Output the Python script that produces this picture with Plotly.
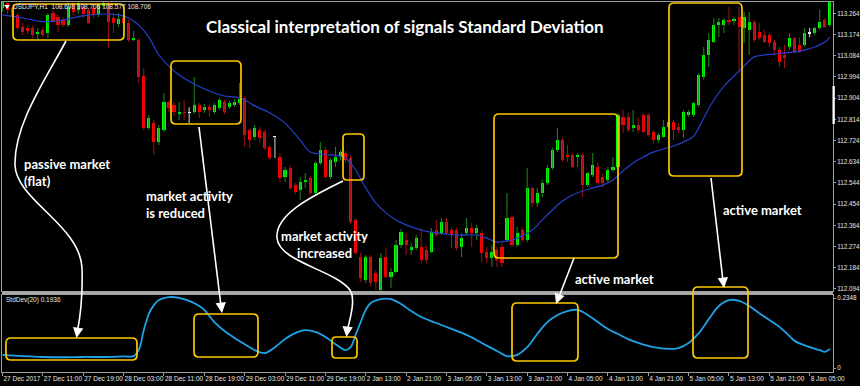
import plotly.graph_objects as go

# ---------------- data ----------------
opens = [113.287,113.308,113.287,113.257,113.206,113.202,113.202,113.180,113.193,113.180,
         113.265,113.248,113.236,113.214,113.303,113.278,113.291,113.278,113.287,113.257,
         113.295,113.308,113.244,113.219,113.244,113.223,113.151,113.151,112.998,112.777,
         112.798,112.718,112.769,112.888,112.875,112.837,112.845,112.841,112.845,112.875,
         112.854,112.866,112.845,112.862,112.888,112.866,112.875,112.883,112.905,112.769,
         112.739,112.769,112.760,112.697,112.739,112.654,112.569,112.608,112.535,112.514,
         112.548,112.565,112.501,112.629,112.684,112.569,112.633,112.654,112.671,112.650,
         112.387,112.230,112.132,112.230,112.162,112.090,112.230,112.145,112.166,112.281,
         112.302,112.259,112.268,112.272,112.259,112.251,112.344,112.332,112.378,112.344,
         112.344,112.272,112.332,112.353,112.332,112.332,112.251,112.226,112.259,112.272,
         112.302,112.400,112.281,112.344,112.302,112.523,112.459,112.501,112.544,112.608,
         112.684,112.726,112.663,112.663,112.654,112.663,112.535,112.578,112.612,112.569,
         112.557,112.599,112.612,112.824,112.824,112.777,112.790,112.832,112.832,112.760,
         112.726,112.739,112.781,112.803,112.781,112.769,112.832,112.832,112.875,112.994,
         113.087,113.142,113.214,113.214,113.236,113.231,113.248,113.202,113.193,113.227,
         113.185,113.172,113.172,113.142,113.108,113.087,113.121,113.159,113.130,113.130,
         113.180,113.180,113.202,113.236,113.214]
highs = [113.320,113.316,113.299,113.265,113.223,113.214,113.214,113.202,113.206,113.265,
         113.278,113.257,113.248,113.316,113.316,113.316,113.303,113.287,113.299,113.308,
         113.316,113.316,113.265,113.265,113.257,113.236,113.189,113.159,113.032,112.832,
         112.811,112.790,112.926,112.896,112.888,112.888,112.896,112.866,112.994,112.884,
         112.879,112.875,112.884,112.905,112.896,112.892,112.900,112.968,112.913,112.777,
         112.790,112.781,112.769,112.705,112.743,112.671,112.612,112.616,112.544,112.569,
         112.586,112.574,112.637,112.718,112.697,112.650,112.697,112.684,112.680,112.663,
         112.395,112.247,112.238,112.238,112.174,112.247,112.268,112.183,112.302,112.349,
         112.332,112.289,112.323,112.353,112.281,112.353,112.387,112.395,112.395,112.353,
         112.353,112.332,112.395,112.374,112.366,112.344,112.272,112.281,112.272,112.289,
         112.501,112.408,112.357,112.357,112.608,112.527,112.523,112.557,112.620,112.692,
         112.777,112.735,112.705,112.671,112.671,112.671,112.590,112.671,112.629,112.586,
         112.612,112.654,112.841,112.854,112.841,112.854,112.820,112.841,112.841,112.769,
         112.756,112.811,112.820,112.811,112.798,112.854,112.854,112.888,113.011,113.121,
         113.180,113.244,113.244,113.244,113.291,113.248,113.291,113.270,113.270,113.236,
         113.223,113.193,113.180,113.151,113.121,113.130,113.180,113.163,113.163,113.202,
         113.202,113.206,113.278,113.244,113.320]
lows = [113.270,113.261,113.236,113.193,113.172,113.176,113.159,113.151,113.163,113.159,
        113.223,113.185,113.206,113.206,113.257,113.261,113.244,113.219,113.244,113.248,
        113.287,113.117,113.180,113.206,113.210,113.142,113.146,112.968,112.769,112.769,
        112.663,112.705,112.760,112.845,112.828,112.811,112.811,112.798,112.837,112.820,
        112.841,112.824,112.837,112.854,112.837,112.858,112.866,112.875,112.697,112.692,
        112.726,112.714,112.684,112.641,112.650,112.548,112.548,112.514,112.497,112.472,
        112.523,112.493,112.493,112.620,112.565,112.561,112.612,112.641,112.633,112.370,
        112.238,112.124,112.120,112.103,112.090,112.086,112.141,112.098,112.162,112.268,
        112.238,112.238,112.259,112.204,112.204,112.247,112.315,112.323,112.323,112.268,
        112.259,112.230,112.323,112.272,112.302,112.208,112.204,112.187,112.187,112.187,
        112.293,112.272,112.272,112.293,112.293,112.442,112.442,112.484,112.535,112.599,
        112.675,112.633,112.633,112.608,112.612,112.484,112.527,112.569,112.535,112.523,
        112.548,112.590,112.608,112.756,112.760,112.760,112.756,112.756,112.739,112.714,
        112.714,112.735,112.777,112.726,112.756,112.735,112.824,112.824,112.866,112.981,
        113.036,113.138,113.163,113.180,113.214,113.214,113.011,113.138,113.087,113.142,
        113.151,113.138,113.121,113.087,113.036,113.032,113.108,113.095,113.095,113.121,
        113.163,113.172,113.193,113.202,113.206]
closes = [113.312,113.278,113.253,113.202,113.185,113.189,113.172,113.185,113.172,113.257,
          113.231,113.214,113.214,113.291,113.270,113.308,113.261,113.223,113.257,113.299,
          113.308,113.227,113.223,113.240,113.223,113.151,113.159,112.994,112.777,112.820,
          112.718,112.777,112.888,112.862,112.845,112.845,112.841,112.841,112.875,112.845,
          112.866,112.854,112.875,112.896,112.845,112.884,112.888,112.900,112.748,112.726,
          112.777,112.735,112.692,112.650,112.739,112.565,112.599,112.523,112.506,112.548,
          112.557,112.501,112.629,112.684,112.569,112.641,112.654,112.675,112.641,112.378,
          112.247,112.141,112.230,112.120,112.124,112.226,112.145,112.166,112.281,112.336,
          112.281,112.272,112.310,112.217,112.217,112.336,112.323,112.378,112.332,112.323,
          112.268,112.310,112.353,112.332,112.353,112.247,112.226,112.251,112.217,112.204,
          112.395,112.281,112.332,112.302,112.523,112.459,112.501,112.544,112.608,112.684,
          112.726,112.641,112.654,112.612,112.663,112.535,112.586,112.620,112.544,112.544,
          112.599,112.612,112.832,112.790,112.769,112.790,112.769,112.760,112.748,112.726,
          112.748,112.781,112.803,112.769,112.769,112.845,112.845,112.883,113.002,113.087,
          113.151,113.214,113.227,113.236,113.227,113.240,113.206,113.248,113.227,113.151,
          113.159,113.142,113.138,113.108,113.057,113.074,113.159,113.100,113.100,113.180,
          113.180,113.202,113.227,113.206,113.312]

# moving average (blue line), read at sampled bars
ma_idx = [0,4,8,12,16,20,23,25,27,29,31,33,35,38,41,44,46,48,50,53,56,59,61,63,65,67,68,70,72,74,
          76,78,80,83,86,90,94,96,98,101,103,105,107,109,111,113,115,117,119,121,123,125,127,129,131,
          133,135,137,139,141,143,145,147,149,151,153,155,157,159,161,163,164]
ma_val = [113.257,113.244,113.229,113.236,113.253,113.261,113.257,113.244,113.214,113.163,113.087,
          113.040,113.002,112.964,112.934,112.913,112.909,112.896,112.871,112.841,112.798,112.726,
          112.675,112.667,112.663,112.658,112.650,112.599,112.523,112.459,112.417,112.387,112.366,
          112.344,112.332,112.323,112.323,112.310,112.293,112.302,112.319,112.344,112.387,112.429,
          112.467,112.493,112.510,112.523,112.535,112.557,112.595,112.629,112.654,112.675,112.688,
          112.701,112.718,112.743,112.820,112.896,112.955,112.998,113.040,113.079,113.087,113.091,
          113.096,113.100,113.108,113.121,113.142,113.163]

# StdDev(20) indicator, read at sampled bars
sd_idx = [0,4,8,12,16,20,24,26,27,28,29,30,31,33,35,37,39,40,42,44,46,48,50,52,54,56,58,60,62,64,
          66,68,69,70,71,72,73,75,77,79,81,83,86,89,92,95,98,100,102,104,106,108,110,112,114,116,
          118,120,122,124,126,129,132,134,136,138,140,142,144,146,148,150,152,154,156,157,160,162,163,164]
sd_val = [0.044,0.040,0.037,0.036,0.037,0.037,0.039,0.040,0.060,0.127,0.181,0.211,0.228,0.238,0.235,
          0.225,0.208,0.195,0.154,0.124,0.101,0.080,0.060,0.050,0.070,0.097,0.117,0.127,0.121,0.104,
          0.080,0.060,0.070,0.111,0.154,0.195,0.218,0.231,0.231,0.215,0.191,0.171,0.151,0.131,0.111,
          0.084,0.057,0.040,0.044,0.070,0.114,0.154,0.178,0.191,0.195,0.178,0.154,0.131,0.114,0.097,
          0.084,0.070,0.064,0.067,0.084,0.117,0.164,0.208,0.228,0.225,0.208,0.184,0.161,0.138,0.107,
          0.091,0.070,0.060,0.054,0.064]

price_ticks = [113.264,113.174,113.084,112.994,112.904,112.814,112.724,112.634,112.544,
               112.454,112.364,112.274,112.184,112.094]
time_idx = [0,8,16,24,32,40,48,56,64,72,80,88,96,104,112,120,128,136,144,152,160]
time_labels = ["27 Dec 2017","27 Dec 11:00","27 Dec 19:00","28 Dec 03:00","28 Dec 11:00",
               "28 Dec 19:00","29 Dec 03:00","29 Dec 11:00","29 Dec 19:00","2 Jan 13:00",
               "2 Jan 21:00","3 Jan 05:00","3 Jan 13:00","3 Jan 21:00","4 Jan 05:00",
               "4 Jan 13:00","4 Jan 21:00","5 Jan 05:00","5 Jan 13:00","5 Jan 21:00","8 Jan 05:00"]
sd_ticks = [0, 0.2348]

# ---------------- geometry helpers ----------------
W, H = 860, 386
ML, MR, MT, MB = 2, 27, 2, 14
PW = W - ML - MR
PH = H - MT - MB


def px(x, y):
    return (x - ML) / PW, (H - MB - y) / PH


def P(x, y):
    X, Y = px(x, y)
    return f"{X:.5f},{Y:.5f}"


def rrect(x0, y0, x1, y1, r=5):
    return (f"M {P(x0 + r, y0)} L {P(x1 - r, y0)} Q {P(x1, y0)} {P(x1, y0 + r)} "
            f"L {P(x1, y1 - r)} Q {P(x1, y1)} {P(x1 - r, y1)} L {P(x0 + r, y1)} "
            f"Q {P(x0, y1)} {P(x0, y1 - r)} L {P(x0, y0 + r)} Q {P(x0, y0)} {P(x0 + r, y0)} Z")


def path(cmds):
    out = []
    for letter, *pts in cmds:
        out.append(letter + " " + " ".join(P(x, y) for x, y in pts))
    return " ".join(out)


main_dom = [(H - MB - 291) / PH, 1]
ind_dom = [0, (H - MB - 295) / PH]

BULL, BEAR, DOJI = "#00ff00", "#ff0000", "#ffffff"
BULL_W, BEAR_W = "#1c8c1c", "#a01414"

fig = go.Figure()

# wicks
wick = {"bull": ([], []), "bear": ([], []), "doji": ([], [])}
for i, (o, h, l, c) in enumerate(zip(opens, highs, lows, closes)):
    k = "bull" if c > o else ("bear" if c < o else "doji")
    wick[k][0].extend([i, i, None])
    wick[k][1].extend([l, h, None])
for k, col in (("bull", BULL_W), ("bear", BEAR_W), ("doji", "#d8d8d8")):
    fig.add_trace(go.Scatter(x=wick[k][0], y=wick[k][1], mode="lines",
                             line=dict(color=col, width=1), hoverinfo="skip",
                             showlegend=False, xaxis="x", yaxis="y"))

# bodies
base = [min(o, c) for o, c in zip(opens, closes)]
height = [max(abs(c - o), 0.0035) for o, c in zip(opens, closes)]
colors = [BULL if c > o else (BEAR if c < o else DOJI) for o, c in zip(opens, closes)]
fig.add_trace(go.Bar(x=list(range(len(opens))), y=height, base=base, width=0.62,
                     marker=dict(color=colors, line=dict(width=0)), showlegend=False,
                     xaxis="x", yaxis="y"))

# moving average
fig.add_trace(go.Scatter(x=ma_idx, y=ma_val, mode="lines", line=dict(color="#2240cc", width=1.2),
                         line_shape="spline", showlegend=False, xaxis="x", yaxis="y"))

# StdDev
fig.add_trace(go.Scatter(x=sd_idx, y=sd_val, mode="lines", line=dict(color="#1fa3e6", width=1.8),
                         line_shape="spline", showlegend=False, xaxis="x2", yaxis="y2"))

GRID = "#9a9a9a"
small = dict(family="Liberation Sans, Arial, sans-serif", size=6.3, color="#e6e6e6")
xr = [-0.1, 164.62]

fig.update_layout(
    width=W, height=H, margin=dict(l=ML, r=MR, t=MT, b=MB),
    paper_bgcolor="black", plot_bgcolor="black", showlegend=False, bargap=0,
    xaxis=dict(domain=[0, 1], range=xr, anchor="y", showgrid=False, zeroline=False,
               showticklabels=False, ticks="", showline=True, linecolor=GRID, linewidth=1,
               mirror=True, fixedrange=True),
    yaxis=dict(domain=main_dom, range=[112.0854, 113.3120], anchor="x", side="right",
               showgrid=False, zeroline=False, tickvals=price_ticks,
               ticktext=[f"{v:.3f}" for v in price_ticks], ticks="outside", ticklen=2,
               tickcolor=GRID, tickfont=small, ticklabelstandoff=0, showline=True,
               linecolor=GRID, linewidth=1, mirror=True, automargin=False),
    xaxis2=dict(domain=[0, 1], range=xr, anchor="y2", showgrid=False, zeroline=False,
                tickvals=time_idx, ticktext=time_labels, ticks="outside", ticklen=3,
                tickcolor=GRID, tickfont=dict(small, size=6.5), tickangle=0,
                ticklabelposition="outside right", ticklabelstandoff=0,
                showline=True, linecolor=GRID, linewidth=1, mirror=True, automargin=False),
    yaxis2=dict(domain=ind_dom, range=[-0.0134, 0.2449], anchor="x2", side="right",
                showgrid=False, zeroline=False, tickvals=sd_ticks, ticktext=["0", "0.2348"],
                ticks="outside", ticklen=2, tickcolor=GRID, tickfont=small, ticklabelstandoff=0,
                showline=True, linecolor=GRID, linewidth=1, mirror=True, automargin=False),
)

shapes = []
# separator between panels
X0, Y0 = px(2, 291.5)
X1, Y1 = px(833, 294.5)
shapes.append(dict(type="rect", xref="paper", yref="paper", x0=X0, y0=Y0, x1=X1, y1=Y1,
                   fillcolor="#a8a8a8", line=dict(width=0), layer="above"))
# white scroll marker on price scale
X0, Y0 = px(832.5, 86)
X1, Y1 = px(834.8, 124)
shapes.append(dict(type="rect", xref="paper", yref="paper", x0=X0, y0=Y0, x1=X1, y1=Y1,
                   fillcolor="white", line=dict(width=0), layer="above"))
# tiny triangle icon
shapes.append(dict(type="path", xref="paper", yref="paper",
                   path=path([("M", (4, 5)), ("L", (10, 5)), ("L", (7, 9))]) + " Z",
                   fillcolor="white", line=dict(width=0)))

YEL = "#ffc800"
boxes = [(13, 4, 124, 40), (171, 61, 241, 124), (343, 134, 364, 180), (494, 114, 618, 258),
         (669, 3, 742, 176), (6, 338, 137, 360), (194, 314, 258, 357), (332, 337, 357, 358),
         (512, 303, 578, 361), (693, 287, 748, 358)]
for b in boxes:
    r = 4 if (b[2] - b[0]) < 30 else 5
    shapes.append(dict(type="path", xref="paper", yref="paper", path=rrect(*b, r=r),
                       line=dict(color=YEL, width=1.7), layer="above"))

curves = [
    [("M", (66, 41)), ("C", (45, 80), (14, 125), (15, 165)), ("C", (16, 200), (80, 225), (82, 268)),
     ("C", (83, 300), (80, 318), (77.5, 331))],
    [("M", (199, 127)), ("L", (221, 306))],
    [("M", (343, 181)), ("C", (310, 197), (275, 215), (277, 238)), ("C", (279, 262), (335, 270), (350, 290)),
     ("C", (356, 300), (350, 318), (347.5, 330))],
    [("M", (574, 258)), ("L", (558.5, 298))],
    [("M", (711, 178)), ("L", (723, 281))],
]
for c in curves:
    shapes.append(dict(type="path", xref="paper", yref="paper", path=path(c),
                       line=dict(color="white", width=1.6), layer="above"))
fig.update_layout(shapes=shapes)

ann = []
heads = [((76.5, 338), 1.5, -9), ((222, 313), -1, -8), ((346.5, 337), 1, -9),
         ((556, 304), 3, -8), ((724, 288), -1, -9)]
for (tx, ty), ax, ay in heads:
    X, Y = px(tx, ty)
    ann.append(dict(x=X, y=Y, xref="paper", yref="paper", ax=ax, ay=ay, text="", showarrow=True,
                    arrowhead=2, arrowsize=1.3, arrowwidth=1.6, arrowcolor="white", standoff=0))

big = dict(family="Lato, Noto Sans, sans-serif", size=13, color="white", weight="bold")


def label(text, x, y, xanchor="center", align="center", font=big):
    X, Y = px(x, y)
    ann.append(dict(x=X, y=Y, xref="paper", yref="paper", text=text, showarrow=False,
                    xanchor=xanchor, yanchor="middle", align=align, font=font))


label("Classical interpretation of signals Standard Deviation", 405, 27,
      font=dict(big, size=17))
label("passive market<br>(flat)", 22, 172.5, xanchor="left", align="left")
label("market activity<br>is reduced", 144, 204, xanchor="left", align="left")
label("market activity<br>increased", 324, 245)
label("active market", 614, 279)
label("active market", 762, 210)
label("USDJPY,H1  108.698 108.706 108.577 108.706", 11, 7, xanchor="left", align="left",
      font=dict(small, size=6.5))
label("StdDev(20) 0.1936", 4, 300, xanchor="left", align="left", font=dict(small, size=6.5))

fig.update_layout(annotations=ann)

fig.write_html("out.html", config={"displayModeBar": False},
               post_script="document.body.style.margin='0';document.body.style.overflow='hidden';")
